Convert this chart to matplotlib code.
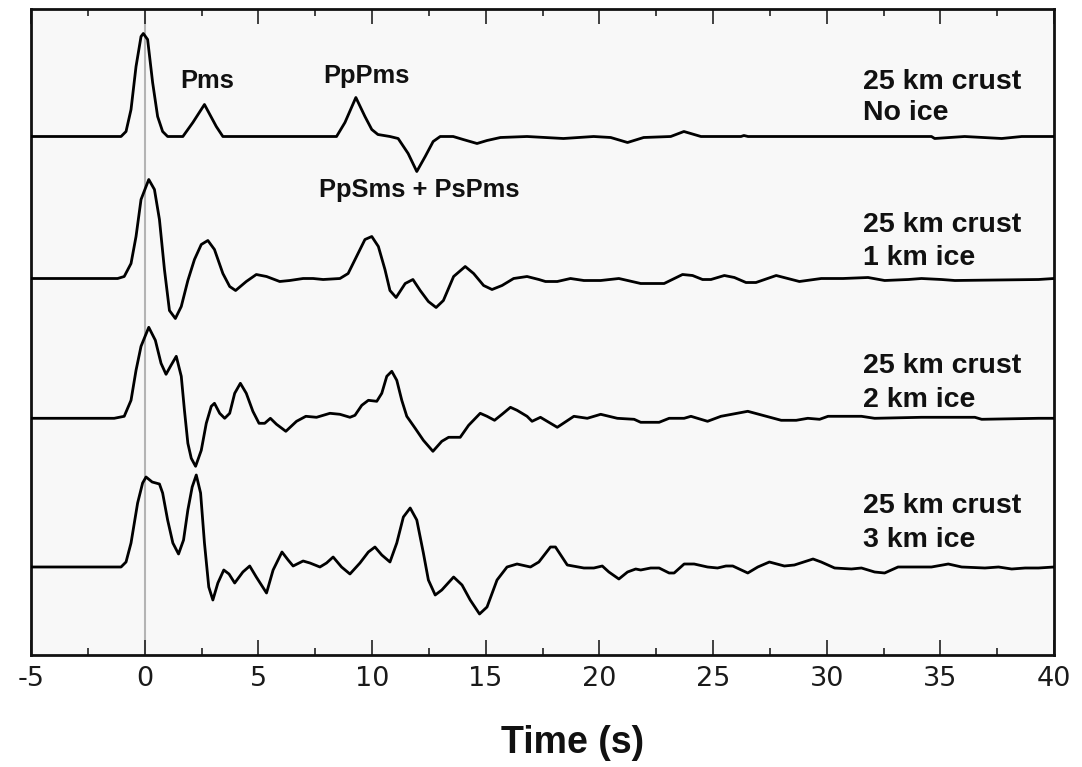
import matplotlib
matplotlib.use("Agg")
import matplotlib.pyplot as plt
import numpy as np

plt.rcParams['axes.unicode_minus'] = False

# ---- data: (time [s], amplitude) samples ----
trace_noice = [(-5, 0), (-1.04, 0), (-0.82, 0.05), (-0.60, 0.27), (-0.38, 0.70), (-0.16, 1.00), (-0.06, 1.03),
               (0.13, 0.97), (0.35, 0.54), (0.57, 0.20), (0.79, 0.05), (1.01, 0), (1.68, 0), (2.12, 0.14),
               (2.63, 0.32), (3.15, 0.10), (3.44, 0), (8.44, 0), (8.81, 0.14), (9.29, 0.39), (9.69, 0.20),
               (9.99, 0.07), (10.26, 0.02), (10.79, 0), (11.15, -0.02), (11.59, -0.17), (11.97, -0.35),
               (12.34, -0.20), (12.69, -0.05), (13.00, 0), (13.57, 0), (14.01, -0.03), (14.62, -0.07),
               (15.06, -0.04), (15.65, -0.01), (16.82, 0), (18.42, -0.02), (19.75, 0), (20.50, -0.01),
               (21.24, -0.06), (21.95, -0.01), (23.14, 0), (23.72, 0.05), (24.47, 0), (26.23, 0), (26.36, 0.01),
               (26.54, 0), (34.61, 0), (34.75, -0.02), (36.07, 0), (37.70, -0.02), (38.58, 0), (40, 0)]

trace_1km = [(-5, 0), (-1.19, 0), (-0.90, 0.02), (-0.60, 0.15), (-0.38, 0.42), (-0.16, 0.79), (0.18, 0.99),
             (0.43, 0.89), (0.65, 0.59), (0.87, 0.09), (1.09, -0.32), (1.35, -0.40), (1.61, -0.28), (1.90, -0.02),
             (2.19, 0.19), (2.49, 0.34), (2.78, 0.38), (3.07, 0.29), (3.44, 0.05), (3.74, -0.08), (4.00, -0.12),
             (4.47, -0.03), (4.91, 0.04), (5.36, 0.02), (5.94, -0.03), (6.38, -0.02), (6.97, 0), (7.41, 0),
             (7.85, -0.01), (8.59, 0), (8.95, 0.05), (9.32, 0.22), (9.69, 0.39), (9.99, 0.42), (10.28, 0.32),
             (10.57, 0.09), (10.79, -0.12), (11.06, -0.19), (11.46, -0.05), (11.80, -0.01), (12.12, -0.12),
             (12.48, -0.23), (12.82, -0.29), (13.14, -0.22), (13.59, 0.02), (14.10, 0.12), (14.47, 0.05),
             (14.91, -0.07), (15.28, -0.11), (15.72, -0.07), (16.23, 0), (16.82, 0.02), (17.34, -0.01),
             (17.63, -0.03), (18.15, -0.03), (18.73, 0), (19.32, -0.02), (20.06, -0.02), (20.86, 0),
             (21.82, -0.05), (22.85, -0.05), (23.66, 0.04), (24.10, 0.03), (24.54, -0.01), (24.91, -0.01),
             (25.50, 0.03), (25.94, 0.01), (26.45, -0.04), (26.89, -0.04), (27.78, 0.03), (28.29, 0),
             (28.80, -0.03), (29.76, 0), (30.72, 0), (31.82, 0.01), (32.55, -0.02), (33.59, -0.01), (34.17, 0),
             (35.05, -0.01), (35.64, -0.02), (39.32, -0.01), (40, 0)]

trace_2km = [(-5, 0), (-1.34, 0), (-0.90, 0.02), (-0.60, 0.18), (-0.38, 0.48), (-0.16, 0.72), (0.18, 0.91),
             (0.47, 0.78), (0.72, 0.55), (0.94, 0.44), (1.16, 0.53), (1.39, 0.62), (1.61, 0.42), (1.75, 0.08),
             (1.90, -0.25), (2.05, -0.40), (2.24, -0.48), (2.49, -0.32), (2.71, -0.05), (2.93, 0.12), (3.07, 0.15),
             (3.30, 0.05), (3.52, 0), (3.74, 0.05), (3.96, 0.25), (4.21, 0.35), (4.47, 0.25), (4.76, 0.07),
             (5.03, -0.05), (5.28, -0.05), (5.53, 0), (5.80, -0.06), (6.21, -0.13), (6.68, -0.03), (7.09, 0.02),
             (7.56, 0.01), (8.15, 0.05), (8.59, 0.04), (9.03, 0.01), (9.25, 0.03), (9.55, 0.13), (9.84, 0.18),
             (10.21, 0.17), (10.43, 0.25), (10.65, 0.42), (10.87, 0.47), (11.09, 0.38), (11.31, 0.18),
             (11.53, 0.02), (11.90, -0.10), (12.26, -0.22), (12.68, -0.33), (13.07, -0.23), (13.37, -0.19),
             (13.88, -0.19), (14.25, -0.07), (14.76, 0.05), (15.06, 0.02), (15.39, -0.02), (15.72, 0.04),
             (16.09, 0.11), (16.38, 0.08), (16.82, 0.02), (17.04, -0.03), (17.41, 0.01), (18.15, -0.09),
             (18.88, 0.02), (19.47, 0), (20.06, 0.04), (20.79, 0), (21.53, -0.01), (21.82, -0.04), (22.63, -0.04),
             (23.07, 0), (23.73, 0), (24.03, 0.02), (24.32, 0), (24.76, -0.03), (25.35, 0.02), (26.53, 0.07),
             (28.00, -0.02), (28.66, -0.02), (29.17, 0), (29.69, -0.01), (30.06, 0.02), (30.64, 0.02),
             (31.53, 0.02), (32.11, 0), (34.17, 0.01), (36.52, 0.01), (36.82, -0.01), (39.32, 0), (40, 0)]

trace_3km = [(-5, 0), (-1.04, 0), (-0.82, 0.05), (-0.60, 0.24), (-0.31, 0.64), (-0.09, 0.84), (0.06, 0.90),
             (0.33, 0.85), (0.65, 0.83), (0.79, 0.74), (1.01, 0.47), (1.24, 0.24), (1.49, 0.13), (1.71, 0.27),
             (1.90, 0.57), (2.09, 0.80), (2.27, 0.92), (2.46, 0.74), (2.63, 0.24), (2.82, -0.20), (3.00, -0.33),
             (3.22, -0.16), (3.48, -0.03), (3.71, -0.07), (3.96, -0.16), (4.32, -0.05), (4.62, 0.01),
             (4.91, -0.10), (5.36, -0.26), (5.65, -0.03), (6.04, 0.15), (6.31, 0.07), (6.53, 0.01), (6.97, 0.06),
             (7.27, 0.04), (7.71, 0), (8.00, 0.04), (8.29, 0.10), (8.66, 0), (9.03, -0.07), (9.47, 0.04),
             (9.84, 0.15), (10.13, 0.20), (10.43, 0.12), (10.79, 0.05), (11.09, 0.24), (11.38, 0.50),
             (11.68, 0.59), (11.97, 0.47), (12.26, 0.14), (12.48, -0.13), (12.78, -0.28), (13.07, -0.23),
             (13.59, -0.10), (13.96, -0.18), (14.32, -0.33), (14.73, -0.47), (15.06, -0.40), (15.50, -0.13),
             (15.94, 0), (16.38, 0.03), (16.97, 0), (17.34, 0.05), (17.85, 0.20), (18.07, 0.20), (18.59, 0.02),
             (19.32, -0.01), (19.76, -0.01), (20.13, 0.01), (20.42, -0.05), (20.86, -0.12), (21.24, -0.05),
             (21.60, -0.02), (21.82, -0.03), (22.26, -0.01), (22.63, -0.01), (23.07, -0.06), (23.29, -0.06),
             (23.73, 0.03), (24.17, 0.03), (24.76, 0), (25.20, -0.01), (25.57, 0.01), (25.87, 0.01),
             (26.53, -0.06), (26.97, 0), (27.48, 0.05), (28.14, 0.01), (28.58, 0.02), (29.40, 0.08),
             (29.76, 0.05), (30.35, -0.01), (31.09, -0.02), (31.53, -0.01), (32.11, -0.05), (32.55, -0.06),
             (33.14, 0), (34.61, 0), (35.35, 0.03), (35.94, 0), (36.96, -0.01), (37.56, 0), (38.14, -0.02),
             (38.73, -0.01), (39.32, -0.01), (40, 0)]

traces = [trace_noice, trace_1km, trace_2km, trace_3km]
trace_offsets = [5.185, 3.765, 2.367, 0.88]
trace_labels = [("25 km crust", "No ice"), ("25 km crust", "1 km ice"),
                ("25 km crust", "2 km ice"), ("25 km crust", "3 km ice")]
phase_names = ["Pms", "PpPms", "PpSms + PsPms"]
x_ticks = [-5, 0, 5, 10, 15, 20, 25, 30, 35, 40]

# ---- layout ----
label_pos_y = [(5.66, 5.35), (4.233, 3.90), (2.817, 2.483), (1.417, 1.077)]
label_x = 31.6
phase_pos = [(2.75, 5.67), (9.77, 5.72), (12.06, 4.58)]
bold_font = ['Liberation Sans', 'DejaVu Sans']

W, H = 1082, 767
fig = plt.figure(figsize=(W / 100, H / 100), dpi=100)
fig.patch.set_facecolor('white')
ax = fig.add_axes([31 / W, (H - 655) / H, (1054 - 31) / W, (655 - 9) / H])
ax.set_facecolor('#f8f8f8')

ax.axvline(0, color='#b4b4b4', lw=1.5, zorder=1)

for pts, off in zip(traces, trace_offsets):
    t = np.array([p[0] for p in pts])
    a = np.array([p[1] for p in pts])
    ax.plot(t, a + off, color='black', lw=2.0, solid_joinstyle='round',
            solid_capstyle='round', zorder=3)

for (l1, l2), (y1, y2) in zip(trace_labels, label_pos_y):
    ax.text(label_x, y1, l1, fontsize=20.5, fontweight='bold', family=bold_font,
            va='baseline', ha='left', color='#111111')
    ax.text(label_x, y2, l2, fontsize=20.5, fontweight='bold', family=bold_font,
            va='baseline', ha='left', color='#111111')

for name, (px, py) in zip(phase_names, phase_pos):
    ax.text(px, py, name, fontsize=18.4, fontweight='bold', family=bold_font,
            va='baseline', ha='center', color='#111111')

ax.set_xlim(-5, 40)
ax.set_ylim(0, 6.46)
ax.set_xticks(x_ticks)
ax.set_xticklabels([str(v) for v in x_ticks])
ax.set_xticks(np.arange(-2.5, 40, 5), minor=True)
ax.set_yticks([])
ax.tick_params(axis='x', which='both', direction='in', top=True, bottom=True,
               labelsize=19.5, pad=8, labelcolor='#1a1a1a', color='#222222')
ax.tick_params(axis='x', which='major', length=11, width=1.2)
ax.tick_params(axis='x', which='minor', length=5, width=1.2)
for lab in ax.get_xticklabels():
    lab.set_family('DejaVu Sans')
for sp in ax.spines.values():
    sp.set_linewidth(2.0)
    sp.set_color('#111111')

fig.text(573 / W, 1 - 743 / H, "Time (s)", ha='center', va='center', fontsize=27,
         fontweight='bold', family=bold_font, color='#111111')

fig.savefig("out.png", dpi=100)
